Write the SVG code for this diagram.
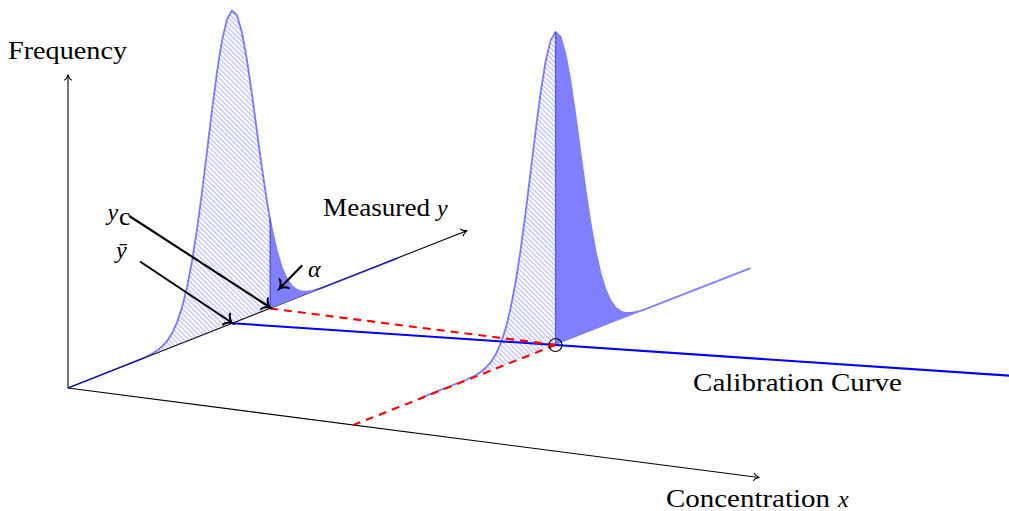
<svg xmlns="http://www.w3.org/2000/svg" width="1009" height="511" viewBox="0 0 1009 511">
<style>
.axis{fill:none;stroke:#000;stroke-width:1.1}
.curve{fill:none;stroke:#0000ff;stroke-opacity:0.5;stroke-width:1.8;stroke-linejoin:round}
.hatch{fill:url(#hatch);stroke:none}
.solid{fill:#8080ff;stroke:none}
.mid{fill:none;stroke:#0000ff;stroke-opacity:0.55;stroke-width:1.2}
.calib{fill:none;stroke:#0000ff;stroke-width:2.1}
.dash{fill:none;stroke:#ff0000;stroke-width:2.1;stroke-dasharray:8 6}
.arr{fill:none;stroke:#000;stroke-width:2.1}
.lbl{font-family:"Liberation Serif","Times New Roman",serif;font-size:26px;fill:#000}
.math{font-family:"Liberation Serif","Times New Roman",serif;font-size:24px;font-style:italic;fill:#000}
</style>
<defs>
<pattern id="hatch" patternUnits="userSpaceOnUse" width="10" height="3.5" patternTransform="rotate(45)">
<line x1="0" y1="1.75" x2="10" y2="1.75" stroke="#8c8cff" stroke-width="0.8"/>
</pattern>
<marker id="arThin" markerUnits="userSpaceOnUse" orient="auto" overflow="visible" refX="0" refY="0" markerWidth="20" markerHeight="20">
<path d="M-5,-3.6 C-4.6,-2 -1,-0.3 0.5,0 C-1,0.3 -4.6,2 -5,3.6" fill="none" stroke="#000" stroke-width="1.1" stroke-linecap="round"/>
</marker>
<marker id="arThick" markerUnits="userSpaceOnUse" orient="auto" overflow="visible" refX="0" refY="0" markerWidth="20" markerHeight="20">
<path d="M-6,-6.5 C-5.5,-3.5 -1.5,-0.6 0.8,0 C-1.5,0.6 -5.5,3.5 -6,6.5" fill="none" stroke="#000" stroke-width="2" stroke-linecap="round"/>
</marker>
</defs>
<rect x="0" y="0" width="1009" height="511" fill="#fff"/>

<g id="axes">
<line class="axis" x1="68" y1="388" x2="68" y2="75" marker-end="url(#arThin)"/>
<line class="axis" x1="68" y1="388" x2="759" y2="477.5" marker-end="url(#arThin)"/>
<line class="axis" x1="68" y1="388" x2="466.7" y2="230.7" marker-end="url(#arThin)"/>
</g>

<g id="distribution-mean">
<path class="hatch" d="M68,388 L142,358.6 L147,356.3 L152,353.8 L157,350.6 L162,346.6 L167,341.1 L172,333.4 L177,322.4 L182,307.4 L187,287.2 L192,261.1 L197,229.1 L202,192 L207,151.4 L212,110.1 L217,71.9 L222,40.4 L227,19.1 L232,10.5 L237,15.2 L242,32.5 L247,60.1 L252,94.4 L257,131.7 L262,168.4 L267,201.6 L270,219.1 L270,308.5 Z"/>
<path class="curve" d="M68,388 L142,358.6 L147,356.3 L152,353.8 L157,350.6 L162,346.6 L167,341.1 L172,333.4 L177,322.4 L182,307.4 L187,287.2 L192,261.1 L197,229.1 L202,192 L207,151.4 L212,110.1 L217,71.9 L222,40.4 L227,19.1 L232,10.5 L237,15.2 L242,32.5 L247,60.1 L252,94.4 L257,131.7 L262,168.4 L267,201.6 L270,219.1 L272,229.6 L277,251.8 L282,268.1 L287,279.1 L292,286.2 L297,289.9 L302,291.5 L307,291.6 L312,290.8 L317,289.4 L322,287.8 L398,258.2"/>
<path class="solid" d="M270,308.5 L270,219.1 L272,229.6 L277,251.8 L282,268.1 L287,279.1 L292,286.2 L297,289.9 L302,291.5 L307,291.6 L312,290.8 L317,289.4 L322,287.8 L398,258.2 Z"/>
<line class="mid" x1="270" y1="219.1" x2="270" y2="308.5"/>
</g>

<g id="distribution-sample">
<path class="hatch" d="M422.5,397.2 L465.5,380 L470.5,377.7 L475.5,375.2 L480.5,372 L485.5,368 L490.5,362.5 L495.5,354.8 L500.5,343.8 L505.5,328.9 L510.5,308.6 L515.5,282.5 L520.5,250.6 L525.5,213.4 L530.5,172.8 L535.5,131.6 L540.5,93.3 L545.5,61.8 L550.5,40.6 L555.5,31.9 L555.5,344.9 Z"/>
<path class="curve" d="M422.5,397.2 L465.5,380 L470.5,377.7 L475.5,375.2 L480.5,372 L485.5,368 L490.5,362.5 L495.5,354.8 L500.5,343.8 L505.5,328.9 L510.5,308.6 L515.5,282.5 L520.5,250.6 L525.5,213.4 L530.5,172.8 L535.5,131.6 L540.5,93.3 L545.5,61.8 L550.5,40.6 L555.5,31.9 L560.5,36.6 L565.5,54 L570.5,81.5 L575.5,115.8 L580.5,153.2 L585.5,189.8 L590.5,223 L595.5,251.1 L600.5,273.2 L605.5,289.5 L610.5,300.6 L615.5,307.6 L620.5,311.3 L625.5,313 L630.5,313 L635.5,312.2 L640.5,310.9 L645.5,309.2 L750.5,268.2"/>
<path class="solid" d="M555.5,344.9 L555.5,31.9 L560.5,36.6 L565.5,54 L570.5,81.5 L575.5,115.8 L580.5,153.2 L585.5,189.8 L590.5,223 L595.5,251.1 L600.5,273.2 L605.5,289.5 L610.5,300.6 L615.5,307.6 L620.5,311.3 L625.5,313 L630.5,313 L635.5,312.2 L640.5,310.9 L645.5,309.2 L750.5,268.2 Z"/>
<line class="mid" x1="555.5" y1="31.9" x2="555.5" y2="344.9"/>
</g>

<g id="connectors">
<line class="calib" x1="232" y1="323.2" x2="1012" y2="375.8"/>
<line class="dash" x1="270" y1="308.5" x2="555.5" y2="344.9"/>
<line class="dash" x1="555.5" y1="344.9" x2="353.5" y2="425"/>
<line class="arr" x1="129.3" y1="216" x2="269.5" y2="307" marker-end="url(#arThick)"/>
<line class="arr" x1="140" y1="261.5" x2="231.5" y2="322.5" marker-end="url(#arThick)"/>
<line class="arr" x1="302.3" y1="265.3" x2="280" y2="288" marker-end="url(#arThick)"/>
</g>

<g id="intersection">
<circle cx="555.5" cy="345" r="6.5" fill="none" stroke="#000" stroke-width="1.1"/>
</g>

<g id="labels">
<text class="lbl" x="8" y="59" textLength="119" lengthAdjust="spacingAndGlyphs">Frequency</text>
<text class="lbl" x="323" y="216" textLength="107" lengthAdjust="spacingAndGlyphs">Measured</text>
<text class="math" x="437" y="216" font-size="26">y</text>
<text class="lbl" x="693" y="391" textLength="209" lengthAdjust="spacingAndGlyphs">Calibration Curve</text>
<text class="lbl" x="666" y="507" textLength="164" lengthAdjust="spacingAndGlyphs">Concentration</text>
<text class="math" x="838" y="507" font-size="26">x</text>
<text class="math" x="107.5" y="220">y</text>
<text class="lbl" x="119" y="224.5" font-size="16">c</text>
<text class="math" x="116" y="258">ȳ</text>
<text class="math" x="308" y="277">α</text>
</g>
</svg>
